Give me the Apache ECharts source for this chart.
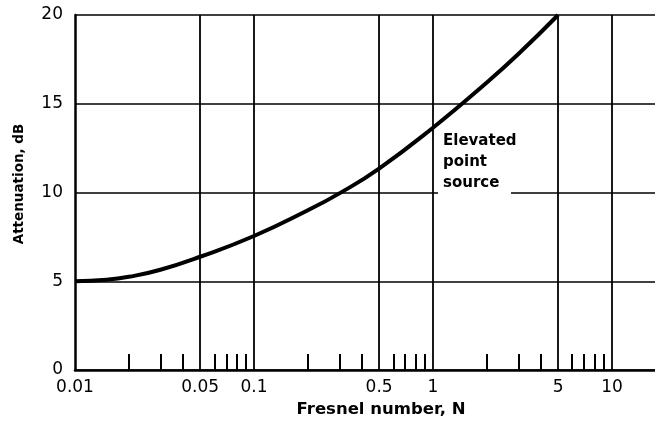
<!DOCTYPE html>
<html><head><meta charset="utf-8">
<script src="https://cdn.jsdelivr.net/npm/echarts@6/dist/echarts.min.js"></script>
<style>html,body{margin:0;padding:0;background:#fff}#c{width:655px;height:423px}</style>
</head><body><div id="c"></div>
<script>
const fresnelN = [0.01, 0.015, 0.02, 0.03, 0.05, 0.1, 0.2, 0.3, 0.5, 1, 2, 3, 5];
const attenuation = [5.0, 5.08, 5.25, 5.65, 6.38, 7.55, 9.0, 9.95, 11.35, 13.65, 16.2, 17.8, 20.0];
const xLabelValues = [0.01, 0.05, 0.1, 0.5, 1, 5, 10];
const xGridValues = [0.05, 0.1, 0.5, 1, 5, 10];
const xMinorTicks = [0.02, 0.03, 0.04, 0.06, 0.07, 0.08, 0.09,
                     0.2, 0.3, 0.4, 0.6, 0.7, 0.8, 0.9,
                     2, 3, 4, 6, 7, 8, 9];
const yMin = 0, yMax = 20, yStep = 5;
const xMin = 0.01, xMax = 17.4;
const xTitle = 'Fresnel number, N';
const yTitle = 'Attenuation, dB';
const noteLines = ['Elevated', 'point', 'source'];

const FONT = 'DejaVu Sans';
const chart = echarts.init(document.getElementById('c'), null, {renderer: 'canvas'});
const seriesData = fresnelN.map((n, i) => [n, attenuation[i]]);

chart.setOption({
  animation: false,
  backgroundColor: '#fff',
  grid: {left: 75, top: 15, right: 0, bottom: 53, containLabel: false},
  xAxis: [
    {
      type: 'log', logBase: 10, min: xMin, max: xMax, position: 'bottom',
      axisLine: {show: true, onZero: false, lineStyle: {color: '#000', width: 2.5}},
      axisTick: {show: true, inside: true, length: 16, customValues: xMinorTicks,
                 lineStyle: {color: '#000', width: 2}},
      axisLabel: {show: true, customValues: xLabelValues, margin: 9,
                  formatter: v => String(+(+v).toPrecision(3)),
                  color: '#000', fontFamily: FONT, fontSize: 17},
      splitLine: {show: false}, minorTick: {show: false}
    },
    {
      type: 'log', logBase: 10, min: xMin, max: xMax, position: 'bottom',
      axisLine: {show: false},
      axisTick: {show: false, customValues: xGridValues},
      axisLabel: {show: false, customValues: xGridValues},
      splitLine: {show: true, lineStyle: {color: '#000', width: 1.8}}
    }
  ],
  yAxis: {
    type: 'value', min: yMin, max: yMax, interval: yStep,
    axisLine: {show: true, lineStyle: {color: '#000', width: 2.5}},
    axisTick: {show: false},
    axisLabel: {color: '#000', fontFamily: FONT, fontSize: 17, margin: 12},
    splitLine: {show: true, lineStyle: {color: '#000', width: 1.6}}
  },
  series: [{
    type: 'line', xAxisIndex: 0, data: seriesData, smooth: 0.5,
    showSymbol: false, symbol: 'none',
    lineStyle: {color: '#000', width: 4}, z: 5
  }],
  graphic: [
    {type: 'text', x: 381, y: 410, z: 20,
     style: {text: xTitle, fill: '#000', font: 'bold 16.5px "DejaVu Sans"', textAlign: 'center', textVerticalAlign: 'middle'}},
    {type: 'text', x: 19, y: 184, rotation: Math.PI / 2, z: 20,
     style: {text: yTitle, fill: '#000', font: 'bold 13.5px "DejaVu Sans"', textAlign: 'center', textVerticalAlign: 'middle'}},
    {type: 'rect', z: 15, shape: {x: 438, y: 128, width: 73, height: 70}, style: {fill: '#fff'}},
    {type: 'text', x: 443, y: 131, z: 20,
     style: {text: noteLines.join('\n'), fill: '#000', font: 'bold 15px "DejaVu Sans"', lineHeight: 21, textAlign: 'left', textVerticalAlign: 'top'}}
  ]
});
</script>
</body></html>
